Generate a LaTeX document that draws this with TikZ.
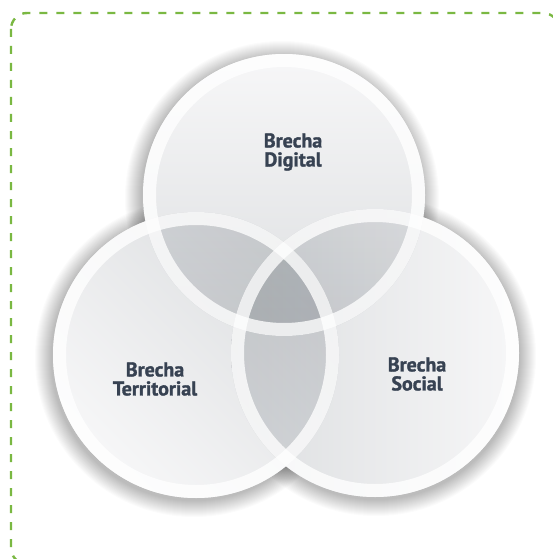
\documentclass[tikz,border=0pt]{standalone}
\usepackage{fontspec}
\newfontfamily\labelfont[BoldFeatures={FakeBold=1.4}]{PT Sans}
\definecolor{framegreen}{RGB}{122,184,66}
\definecolor{labelblue}{RGB}{55,66,82}
\definecolor{lightA}{RGB}{247,247,248}
\definecolor{darkA}{RGB}{220,222,224}
\begin{document}
\begin{tikzpicture}[x=1pt,y=-1pt,
  shadowstep/.style={fill=black, fill opacity=0.016},
  ring/.style={draw=white,line width=13pt,draw opacity=0.78},
  lbl/.style={font=\labelfont\bfseries\fontsize{20}{19}\selectfont,text=labelblue,align=center}]
\useasboundingbox (0,0) rectangle (552,559);
\fill[white] (0,0) rectangle (552,559);
\coordinate (cD) at (284,195);
\coordinate (cT) at (196,355);
\coordinate (cS) at (375,353);
\coordinate (sD) at (282,198);
\coordinate (sT) at (194,358);
\coordinate (sS) at (376,356);
% soft shadows
\foreach \k in {0,1,...,16} {
  \fill[shadowstep] (sT) circle[radius=143+\k];
  \fill[shadowstep] (sS) circle[radius=144+\k];
  \fill[shadowstep] (sD) circle[radius=141+\k];
}
% white bases
\fill[white] (cT) circle[radius=143];
\fill[white] (cS) circle[radius=144];
\fill[white] (cD) circle[radius=141];
% shaded discs, multiplied
\begin{scope}[blend mode=multiply]
\shade[top color=lightA, bottom color=darkA, shading angle=0] (cD) circle[radius=141];
\shade[top color=lightA, bottom color=darkA, shading angle=135] (cT) circle[radius=143];
\shade[top color=lightA, bottom color=darkA, shading angle=-90] (cS) circle[radius=144];
\end{scope}
% rings
\draw[ring] (cT) circle[radius=136.5];
\draw[ring] (cS) circle[radius=137.5];
\draw[ring] (cD) circle[radius=134.5];
% labels
\node[lbl] (digital) at (293,152) {Brecha\\Digital};
\node[lbl] (territorial) at (155,379) {Brecha\\Territorial};
\node[lbl] (social) at (417,374) {Brecha\\Social};
% frame
\draw[framegreen, line width=2.4pt, dash pattern=on 8pt off 9pt, rounded corners=16pt] (11,13) rectangle (559,564);
\end{tikzpicture}
\end{document}
